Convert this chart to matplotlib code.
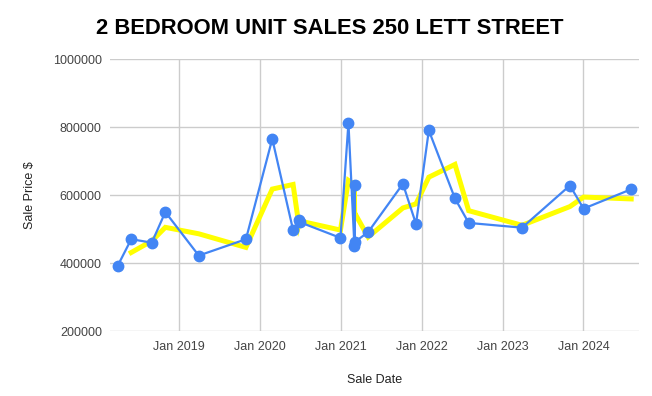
import matplotlib
matplotlib.use("Agg")
import matplotlib.pyplot as plt
import matplotlib.dates as mdates
import pandas as pd

plt.rcParams['font.family'] = ['Liberation Sans', 'DejaVu Sans']

# sale dates and prices
sale_dates = [
    '2018-03-30', '2018-05-30', '2018-08-31', '2018-10-31', '2019-03-31',
    '2019-10-30', '2020-02-26', '2020-05-30', '2020-06-25', '2020-06-30',
    '2020-12-30', '2021-02-04', '2021-03-03', '2021-03-04', '2021-03-05',
    '2021-05-04', '2021-10-08', '2021-12-06', '2022-02-02', '2022-05-31',
    '2022-08-01', '2023-03-30', '2023-11-01', '2024-01-02', '2024-08-04',
]
sale_prices = [
    392000, 470000, 460000, 550000, 422000,
    470000, 765000, 497000, 527000, 520000,
    474000, 812000, 450000, 630000, 462000,
    491000, 633000, 515000, 790000, 590000,
    518000, 504000, 628000, 560000, 617000,
]
y_ticks = [200000, 400000, 600000, 800000, 1000000]

dates = pd.to_datetime(sale_dates)
prices = pd.Series(sale_prices)
# 2-period moving average trendline
trend = prices.rolling(2).mean()

fig, ax = plt.subplots(figsize=(6.52, 3.96), dpi=100)
fig.subplots_adjust(left=0.169, right=0.980, top=0.851, bottom=0.164)

ax.plot(dates, trend, color='#ffff00', linewidth=3.6, zorder=2,
        solid_joinstyle='miter')
ax.plot(dates, prices, color='#4285f4', linewidth=1.6, marker='o',
        markersize=7.5, zorder=3)

ax.set_xlim(pd.Timestamp('2018-02-24'), pd.Timestamp('2024-09-08'))
ax.set_ylim(200000, 1000000)
ax.set_yticks(y_ticks)
ax.set_yticklabels([str(v) for v in y_ticks])

ax.xaxis.set_major_locator(mdates.YearLocator())
ax.xaxis.set_major_formatter(mdates.DateFormatter('%b %Y'))

ax.grid(True, color='#cccccc', linewidth=1)
ax.set_axisbelow(True)
for s in ax.spines.values():
    s.set_visible(False)
ax.tick_params(length=0, labelsize=9, colors='#444444', pad=7)
ax.tick_params(axis='y', pad=6)

ax.set_ylabel('Sale Price $', fontsize=9, color='#222222', labelpad=12)
ax.set_xlabel('Sale Date', fontsize=9, color='#222222', labelpad=15)
fig.suptitle('2 BEDROOM UNIT SALES 250 LETT STREET', fontsize=15.8,
             fontweight='bold', x=0.505, y=0.955, color='#000000')

fig.savefig('out.png', dpi=100)
